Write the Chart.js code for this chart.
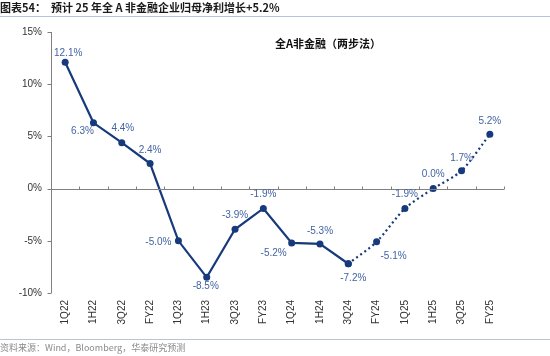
<!DOCTYPE html>
<html>
<head>
<meta charset="utf-8">
<script src="https://cdn.jsdelivr.net/npm/chart.js@4"></script>
<style>
  html, body { margin:0; padding:0; background:#fff; }
  #wrap { position:relative; width:550px; height:356px; overflow:hidden; font-family:"Noto Sans CJK SC","Liberation Sans",sans-serif; }
  #title { position:absolute; left:0; top:0; font-size:11px; font-weight:bold; color:#1a1a1a; white-space:nowrap; line-height:14px; }
  #tline { position:absolute; left:0; top:16px; width:550px; height:1px; background:#b8c4d8; }
  #inner { position:absolute; left:275px; top:35px; font-size:11px; font-weight:bold; color:#111; white-space:nowrap; line-height:16px; }
  #fline { position:absolute; left:0; top:339px; width:550px; height:1px; background:#b8c4d8; }
  #source { position:absolute; left:0; top:341px; font-size:9px; color:#8a8a8a; white-space:nowrap; line-height:13px; }
  #c { position:absolute; left:0; top:0; }
</style>
</head>
<body>
<div id="wrap">
  <canvas id="c" width="550" height="356"></canvas>
  <div id="title">图表54：&nbsp;&nbsp;预计 25 年全 A 非金融企业归母净利增长+5.2%</div>
  <div id="tline"></div>
  <div id="inner">全A非金融（两步法）</div>
  <div id="fline"></div>
  <div id="source">资料来源：Wind，Bloomberg，华泰研究预测</div>
</div>
<script>
const categories = ['1Q22','1H22','3Q22','FY22','1Q23','1H23','3Q23','FY23','1Q24','1H24','3Q24','FY24','1Q25','1H25','3Q25','FY25'];
const actualValues   = [12.1, 6.3, 4.4, 2.4, -5.0, -8.5, -3.9, -1.9, -5.2, -5.3, -7.2, null, null, null, null, null];
const forecastValues = [null, null, null, null, null, null, null, null, null, null, -7.2, -5.1, -1.9, 0.0, 1.7, 5.2];
const labelValues    = [12.1, 6.3, 4.4, 2.4, -5.0, -8.5, -3.9, -1.9, -5.2, -5.3, -7.2, -5.1, -1.9, 0.0, 1.7, 5.2];
const yTicks = [15, 10, 5, 0, -5, -10];

// label placement offsets (style only)
const labelOffsets = [
  [3,-9],[-11,8],[1,-14],[0,-13],[-20,1],[-1,9],[0,-14],[0,-14],
  [-18,10],[0,-13],[5,14],[17,14],[0,-14],[0,-14],[0,-13],[0,-13]
];

const NAVY = '#173a7c';
const LABEL = '#4263a3';

const overlay = {
  id:'overlay',
  afterDatasetsDraw(chart){
    const {ctx, chartArea, scales:{x,y}} = chart;
    ctx.save();
    // zero axis line with category ticks
    const y0 = Math.round(y.getPixelForValue(0)) + 0.5;
    ctx.strokeStyle = '#808080';
    ctx.lineWidth = 1;
    ctx.beginPath();
    ctx.moveTo(chartArea.left, y0);
    ctx.lineTo(chartArea.right, y0);
    const n = categories.length;
    const w = (chartArea.right - chartArea.left) / n;
    for (let i = 1; i <= n; i++) {
      const xx = Math.round(chartArea.left + i*w) + 0.5;
      ctx.moveTo(xx, y0 - 3);
      ctx.lineTo(xx, y0);
    }
    ctx.stroke();
    // data labels
    ctx.font = '10px "Liberation Sans", Arial, sans-serif';
    ctx.fillStyle = LABEL;
    ctx.textAlign = 'center';
    ctx.textBaseline = 'middle';
    labelValues.forEach((v,i)=>{
      const px = x.getPixelForValue(i);
      const py = y.getPixelForValue(v);
      const o = labelOffsets[i];
      ctx.fillText(v.toFixed(1)+'%', px + o[0], py + o[1]);
    });
    ctx.restore();
  },
  beforeDatasetsDraw(chart){
    const {ctx, chartArea, scales:{y}} = chart;
    ctx.save();
    ctx.strokeStyle = '#808080';
    ctx.lineWidth = 1;
    const xL = Math.round(chartArea.left) + 0.5;
    ctx.beginPath();
    ctx.moveTo(xL, y.getPixelForValue(15));
    ctx.lineTo(xL, y.getPixelForValue(-10));
    yTicks.forEach(t=>{
      const yy = Math.round(y.getPixelForValue(t)) + 0.5;
      ctx.moveTo(xL - 4, yy);
      ctx.lineTo(xL, yy);
    });
    ctx.stroke();
    ctx.restore();
  }
};

new Chart(document.getElementById('c'), {
  type:'line',
  data:{
    labels: categories,
    datasets:[
      { data: actualValues, borderColor: NAVY, backgroundColor: NAVY, borderWidth: 2.2,
        pointRadius: 3.5, pointHoverRadius: 3.5, pointBackgroundColor: NAVY, pointBorderWidth: 0, tension: 0, spanGaps:false },
      { data: forecastValues, borderColor: NAVY, backgroundColor: NAVY, borderWidth: 2.2, borderDash:[2,3],
        pointRadius: 3.5, pointHoverRadius: 3.5, pointBackgroundColor: NAVY, pointBorderWidth: 0, tension: 0.25, spanGaps:false }
    ]
  },
  options:{
    responsive:false,
    animation:false,
    devicePixelRatio:1,
    layout:{ padding:{ left:0, right:46, top:32, bottom:16 } },
    plugins:{ legend:{display:false}, tooltip:{enabled:false}, title:{display:false} },
    scales:{
      x:{
        offset:true,
        grid:{ display:false, drawTicks:false },
        border:{ display:false },
        ticks:{ maxRotation:90, minRotation:90, padding:7, color:'#333', autoSkip:false,
                font:{ size:10, family:'"Liberation Sans", Arial, sans-serif' } },
        afterFit(s){ s.height = 47; }
      },
      y:{
        min:-10, max:15,
        grid:{ display:false, drawTicks:false },
        border:{ display:false },
        ticks:{ stepSize:5, padding:9, color:'#333', callback:v=>v+'%',
                font:{ size:10, family:'"Liberation Sans", Arial, sans-serif' } },
        afterFit(s){ s.width = 51; }
      }
    }
  },
  plugins:[overlay]
});
</script>
</body>
</html>
